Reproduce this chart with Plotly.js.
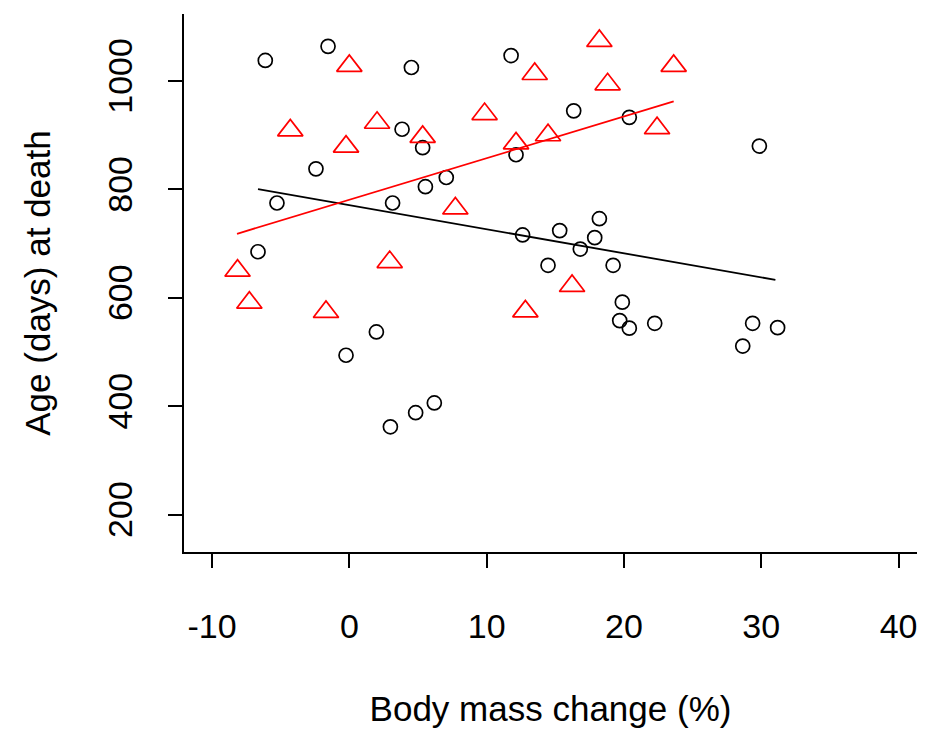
<!DOCTYPE html>
<html>
<head>
<meta charset="utf-8">
<script src="https://cdn.plot.ly/plotly-3.0.1.min.js"></script>
<style>html,body{margin:0;padding:0;background:#fff;}#chart{width:926px;height:734px;}</style>
</head>
<body>
<div id="chart"></div>
<script>
// Group 1 (black open circles)
const circleX = [-6.12, -1.55, 4.52, 11.78, -2.43, 3.84, 5.34, 5.54, 7.06, -5.27, 3.15, 12.14, 16.34, 20.39, 29.86,
  -6.65, 12.62, 15.32, 18.21, 17.87, 16.82, 14.47, 19.21, 19.88, 19.69, 20.39, 22.24, 29.37, 31.19, 28.65,
  -0.24, 1.97, 2.99, 4.83, 6.19];
const circleY = [1038, 1064, 1025, 1047, 838, 911, 877, 805, 822, 775, 775, 864, 945, 933, 880,
  685, 716, 724, 746, 711, 690, 660, 660, 592, 558, 544, 553, 553, 545, 511,
  494, 537, 362, 388, 406];

// Group 2 (red open triangles)
const triX = [-8.14, -7.28, -4.30, -1.70, -0.24, 0.00, 2.02, 2.94, 5.34, 7.72, 9.85, 12.14, 12.82, 13.50, 14.47, 16.22, 18.21, 18.81, 22.41, 23.62];
const triY = [650, 591, 909, 574, 879, 1028, 923, 666, 897, 765, 939, 885, 575, 1013, 900, 622, 1074, 994, 913, 1028];

// Fitted lines (end points)
const blackFitX = [-6.65, 31.03];
const blackFitY = [800.6, 633.1];
const redFitX = [-8.18, 23.62];
const redFitY = [718.1, 962.3];

// Axis ticks
const xTicks = [-10, 0, 10, 20, 30, 40];
const yTicks = [200, 400, 600, 800, 1000];

const FONT = '"Liberation Sans", Arial, Helvetica, sans-serif';

const traces = [
  {x: circleX, y: circleY, type: 'scatter', mode: 'markers',
   marker: {symbol: 'circle-open', size: 14, color: '#000000', line: {color: '#000000', width: 1.7}}},
  {x: triX, y: triY, type: 'scatter', mode: 'markers',
   marker: {symbol: 'triangle-up-open', size: 22, color: '#ff0000', line: {color: '#ff0000', width: 1.7}}},
  {x: blackFitX, y: blackFitY, type: 'scatter', mode: 'lines', line: {color: '#000000', width: 1.8}},
  {x: redFitX, y: redFitY, type: 'scatter', mode: 'lines', line: {color: '#ff0000', width: 1.8}}
];

const layout = {
  width: 926, height: 734,
  margin: {l: 184, r: 9, t: 14, b: 182},
  paper_bgcolor: '#ffffff', plot_bgcolor: '#ffffff',
  showlegend: false, hovermode: false,
  font: {family: FONT, color: '#000000'},
  xaxis: {
    range: [-12.04, 41.34], showgrid: false, zeroline: false,
    showline: true, linecolor: '#000000', linewidth: 2, mirror: false,
    ticks: 'outside', ticklen: 14, tickwidth: 2, tickcolor: '#000000',
    tickvals: xTicks, ticktext: xTicks.map(String),
    tickfont: {family: FONT, size: 34, color: '#000000'},
    ticklabelstandoff: 29,
    title: {text: 'Body mass change (%)', font: {family: FONT, size: 35, color: '#000000'}, standoff: 53},
    automargin: false
  },
  yaxis: {
    range: [131, 1123.7], showgrid: false, zeroline: false,
    showline: true, linecolor: '#000000', linewidth: 2, mirror: false,
    ticks: 'outside', ticklen: 14, tickwidth: 2, tickcolor: '#000000',
    tickvals: yTicks, ticktext: yTicks.map(String), tickangle: -90,
    tickfont: {family: FONT, size: 34, color: '#000000'},
    ticklabelstandoff: 22,
    title: {text: 'Age (days) at death', font: {family: FONT, size: 35, color: '#000000'}, standoff: 40},
    automargin: false
  }
};

Plotly.newPlot('chart', traces, layout, {staticPlot: true, displayModeBar: false});
</script>
</body>
</html>
